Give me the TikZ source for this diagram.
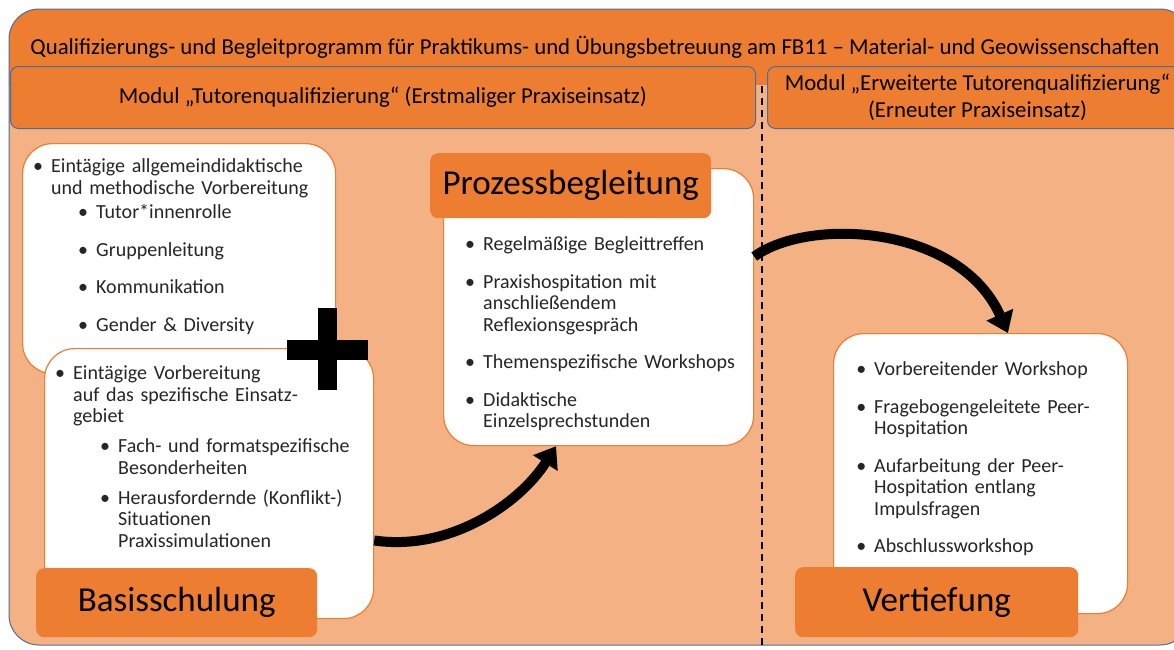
\documentclass[tikz,border=0pt]{standalone}
\usepackage{fontspec}
\setmainfont{Carlito}
\usepackage{enumitem}
\usetikzlibrary{positioning,arrows.meta}

\definecolor{progorange}{HTML}{ED7D31}
\definecolor{paleorange}{HTML}{F4B183}
\definecolor{frameblue}{HTML}{4A6E9B}
\definecolor{textgray}{HTML}{262626}

\newcommand{\bodyfont}{\fontsize{20}{21.5}\selectfont}
\newcommand{\headfont}{\fontsize{22.8}{27}\selectfont}
\newcommand{\labelfont}{\fontsize{35}{40}\selectfont}

\setlist[itemize]{label=\textbullet, topsep=0pt, partopsep=0pt, parsep=0pt,
  itemsep=16pt, leftmargin=13pt, labelsep=8pt}
\setlist[itemize,2]{leftmargin=45pt}

\begin{document}
\begin{tikzpicture}[x=1pt, y=-1pt,
    modulbox/.style={draw=frameblue, line width=1pt, fill=progorange, rounded corners=8pt,
      anchor=north west, font=\headfont, text=black, align=center, inner sep=0pt},
    whitebox/.style={draw=progorange, line width=1.2pt, fill=white, rounded corners=30pt,
      anchor=north west, inner sep=0pt},
    stagelabel/.style={fill=progorange, rounded corners=8pt, anchor=north west,
      font=\labelfont, text=black, inner sep=0pt},
    bullettext/.style={anchor=north west, inner sep=0pt, text width=300pt, align=left,
      font=\bodyfont, text=textgray},
    flowarrow/.style={line width=10pt, -{Triangle[length=20pt, width=28pt]}}]

  \clip (0,0) rectangle (1174,649);

  % frame of the whole programme
  \begin{scope}
    \clip[rounded corners=30pt] (9,9) rectangle (1190,645);
    \fill[paleorange] (0,0) rectangle (1200,650);
    \fill[progorange] (0,0) rectangle (1200,85);
  \end{scope}
  \draw[frameblue, line width=1pt, rounded corners=30pt] (9,9) rectangle (1190,645);

  \node[font=\headfont, text=black] (title) at (595,47)
    {Qualifizierungs- und Begleitprogramm für Praktikums- und Übungsbetreuung am FB11 – Material- und Geowissenschaften};

  \node[modulbox, minimum width=745pt, minimum height=62pt] (modfirst) at (10,66)
    {Modul „Tutorenqualifizierung“ (Erstmaliger Praxiseinsatz)};
  \node[modulbox, minimum width=420pt, minimum height=62pt] (modnext) at (767,66)
    {Modul „Erweiterte Tutorenqualifizierung“\\(Erneuter Praxiseinsatz)};

  \draw[black, line width=1.8pt, dash pattern=on 7pt off 5pt] (762,86) -- (762,649);

  % Basisschulung
  \node[whitebox, minimum width=313pt, minimum height=230pt] (basisgen) at (22,143) {};
  \node[bullettext] (basisgentext) at (38,151) {%
    \begin{itemize}
      \item Eintägige allgemeindidaktische\\und methodische Vorbereitung
      \begin{itemize}[topsep=3pt]
        \item Tutor*innenrolle
        \item Gruppenleitung
        \item Kommunikation
        \item Gender \& Diversity
      \end{itemize}
    \end{itemize}};

  \node[whitebox, minimum width=329pt, minimum height=270pt] (basisspec) at (44,348) {};
  \node[bullettext] (basisspectext) at (60,358) {%
    \begin{itemize}
      \item Eintägige Vorbereitung\\auf das spezifische Einsatz-\\gebiet
      \begin{itemize}[topsep=8.5pt, itemsep=8.5pt]
        \item Fach- und formatspezifische\\Besonderheiten
        \item Herausfordernde (Konflikt-)\\Situationen\\Praxissimulationen
      \end{itemize}
    \end{itemize}};

  \fill[black] (318,308) rectangle (337,390);
  \fill[black] (287,340) rectangle (368,360);

  \node[stagelabel, minimum width=281pt, minimum height=69pt] (basis) at (36,568) {Basisschulung};

  % Prozessbegleitung
  \node[whitebox, minimum width=310pt, minimum height=277pt] (prozess) at (443,168) {};
  \node[stagelabel, minimum width=281pt, minimum height=65pt] (prozesslabel) at (430,153) {Prozessbegleitung};
  \node[bullettext] (prozesstext) at (470,229) {%
    \begin{itemize}
      \item Regelmäßige Begleittreffen
      \item Praxishospitation mit\\anschließendem\\Reflexionsgespräch
      \item Themenspezifische Workshops
      \item Didaktische\\Einzelsprechstunden
    \end{itemize}};

  % Vertiefung
  \node[whitebox, minimum width=294pt, minimum height=280pt] (vertief) at (833,333) {};
  \node[bullettext] (vertieftext) at (861,354) {%
    \begin{itemize}
      \item Vorbereitender Workshop
      \item Fragebogengeleitete Peer-\\Hospitation
      \item Aufarbeitung der Peer-\\Hospitation entlang\\Impulsfragen
      \item Abschlussworkshop
    \end{itemize}};
  \node[stagelabel, minimum width=283pt, minimum height=70pt] (vertieflabel) at (795,567) {Vertiefung};

  % arrows between the stages
  \draw[flowarrow] (basisspec.-19) .. controls +(75,11) and +(-37,58) .. (prozess.253);
  \draw[flowarrow] (prozess.18) .. controls +(55,-40) and +(-48,-108) .. (vertief.79);
\end{tikzpicture}
\end{document}
